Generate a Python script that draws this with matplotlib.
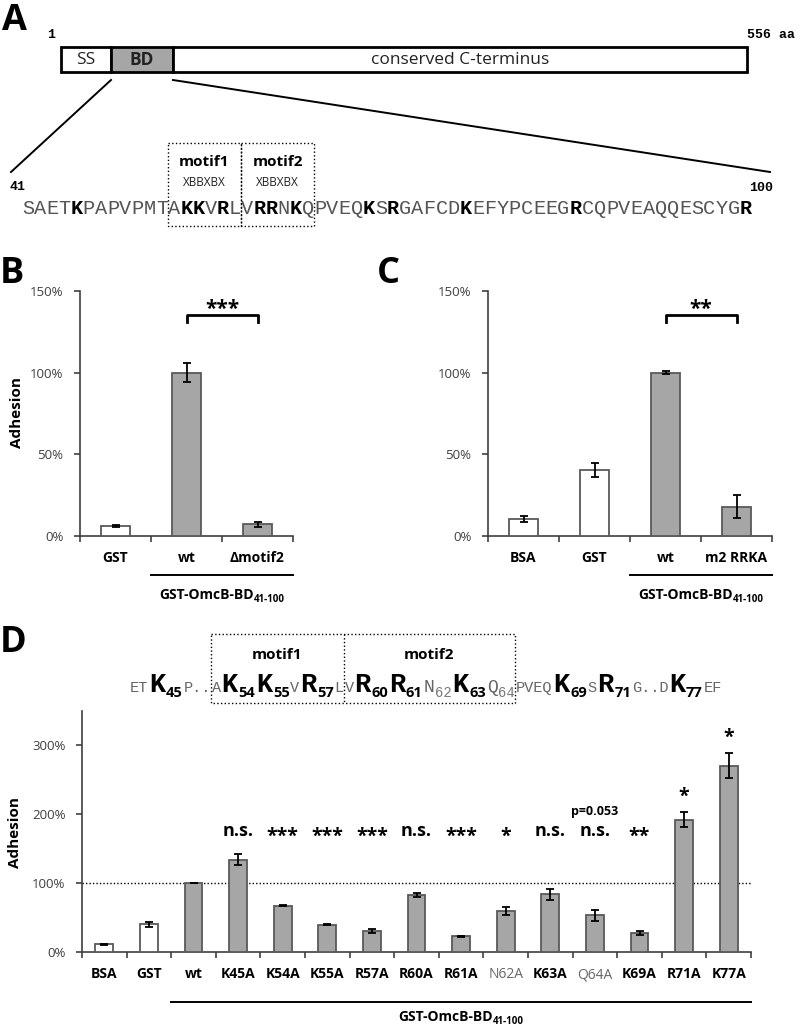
import numpy as np
import matplotlib
matplotlib.use('Agg')
import matplotlib.pyplot as plt
from matplotlib.patches import Rectangle

plt.rcParams['font.family'] = ['Open Sans', 'DejaVu Sans']
SANS = ['Open Sans', 'DejaVu Sans']
MONO = ['Liberation Mono', 'DejaVu Sans Mono']

# ---------------- data ----------------
domain_labels = ['SS', 'BD', 'conserved C-terminus']
seqA = "SAETKPAPVPMTAKKVRLVRRNKQPVEQKSRGAFCDKEFYPCEEGRCQPVEAQQESCYGR"
motifA = [(12, 18), (18, 24)]
motif_names = ['motif1', 'motif2']
motif_pattern = 'XBBXBX'

b_cats = ['GST', 'wt', '\u0394motif2']
b_vals = [0.061, 1.00, 0.073]
b_err = [0.005, 0.06, 0.015]
b_white = [True, False, False]

c_cats = ['BSA', 'GST', 'wt', 'm2 RRKA']
c_vals = [0.104, 0.405, 1.00, 0.178]
c_err = [0.018, 0.045, 0.01, 0.07]
c_white = [True, True, False, False]

d_cats = ['BSA', 'GST', 'wt', 'K45A', 'K54A', 'K55A', 'R57A', 'R60A', 'R61A',
          'N62A', 'K63A', 'Q64A', 'K69A', 'R71A', 'K77A']
d_vals = [0.11, 0.40, 1.00, 1.34, 0.67, 0.395, 0.30, 0.83, 0.225,
          0.59, 0.84, 0.53, 0.275, 1.92, 2.70]
d_err = [0.01, 0.04, 0.005, 0.08, 0.01, 0.01, 0.03, 0.03, 0.01,
         0.055, 0.08, 0.085, 0.035, 0.11, 0.185]
d_white = [True, True] + [False] * 13
d_sig = ['', '', '', 'n.s.', '***', '***', '***', 'n.s.', '***', '*',
         'n.s.', 'n.s.', '**', '*', '*']
d_plain = ['N62A', 'Q64A']
group_label = ('GST-OmcB-BD', '41-100')

# D sequence tokens: (text, kind) kind: s=small letter, m=medium letter, B=big bold, n=sub bold, g=sub gray
seqD = [('ET', 's'), ('K', 'B'), ('45', 'n'), ('P..', 's'), ('|', 'box'), ('A', 's'),
        ('K', 'B'), ('54', 'n'), ('K', 'B'), ('55', 'n'), ('V', 's'), ('R', 'B'),
        ('57', 'n'), ('L', 's'), ('|', 'div'), ('V', 's'), ('R', 'B'), ('60', 'n'),
        ('R', 'B'), ('61', 'n'), ('N', 'm'), ('62', 'g'), ('K', 'B'), ('63', 'n'),
        ('Q', 'm'), ('64', 'g'), ('|', 'end'), ('PVEQ', 's'), ('K', 'B'), ('69', 'n'),
        ('S', 's'), ('R', 'B'), ('71', 'n'), ('G..D', 's'), ('K', 'B'), ('77', 'n'),
        ('EF', 's')]

# ---------------- figure ----------------
W, H = 800, 1029
fig = plt.figure(figsize=(W / 100, H / 100), dpi=100)
ov = fig.add_axes([0, 0, 1, 1])
ov.set_xlim(0, W)
ov.set_ylim(H, 0)
ov.axis('off')
R = fig.canvas.get_renderer()

GREY = '#a6a6a6'
EDGE = '#595959'
AX = '#404040'


def add_ax(x0, x1, y0, y1):
    return fig.add_axes([x0 / W, 1 - y1 / H, (x1 - x0) / W, (y1 - y0) / H])


def to_px(ax, x, y):
    d = ax.transData.transform((x, y))
    return d[0], H - d[1]


def place_runs(x, y, items, center=False):
    arts = []
    widths = []
    for txt, kw, dy, gap in items:
        t = ov.text(0, y + dy, txt, ha='left', va='baseline', **kw)
        arts.append((t, dy))
        widths.append(t.get_window_extent(R).width + gap)
    total = sum(widths)
    xs = x - total / 2 if center else x
    starts = []
    for (t, dy), w in zip(arts, widths):
        t.set_position((xs, y + dy))
        starts.append(xs)
        xs += w
    return starts, xs


# ---------------- panel letters ----------------
for lab, x, y in [('A', 2, 30), ('B', 0, 283), ('C', 377, 283), ('D', 0, 652)]:
    ov.text(x, y, lab, fontsize=26, fontweight='bold', va='baseline', ha='left',
            family=SANS)

# ---------------- panel A ----------------
dom_x = [61, 111, 173, 747]
dom_fill = ['white', GREY, 'white']
for i, lab in enumerate(domain_labels):
    ov.add_patch(Rectangle((dom_x[i], 47), dom_x[i + 1] - dom_x[i], 25,
                           facecolor=dom_fill[i], edgecolor='black', lw=2))
    ov.text((dom_x[i] + dom_x[i + 1]) / 2, 60, lab, ha='center', va='center',
            fontsize=12.5, fontweight='bold' if lab == 'BD' else 'normal',
            color='#222222')
ov.text(51, 38, '1', ha='center', va='baseline', fontsize=9.5, fontweight='bold',
        family=MONO)
ov.text(747, 38, '556 aa', ha='left', va='baseline', fontsize=9.5,
        fontweight='bold', family=MONO)
ov.plot([111, 11], [80, 172], color='black', lw=1.4)
ov.plot([173, 770], [80, 172], color='black', lw=1.4)
ov.text(18, 190, '41', ha='center', va='baseline', fontsize=9.5,
        fontweight='bold', family=MONO)
ov.text(761, 191, '100', ha='center', va='baseline', fontsize=9.5,
        fontweight='bold', family=MONO)

x0A, pitch = 22, 730 / len(seqA)
for i, ch in enumerate(seqA):
    bold = ch in 'KR'
    ov.text(x0A + pitch * (i + 0.5), 214, ch, ha='center', va='baseline',
            family=MONO, fontsize=pitch / 0.6 * 0.72,
            fontweight='bold' if bold else 'normal',
            color='black' if bold else '#555555')
for (a, b), name in zip(motifA, motif_names):
    xa, xb = x0A + pitch * a, x0A + pitch * b
    ov.add_patch(Rectangle((xa, 143), xb - xa, 83, fill=False, edgecolor='black',
                           lw=1, ls=':'))
    ov.text((xa + xb) / 2, 162, name, ha='center', va='center', fontsize=11,
            fontweight='bold')
    ov.text((xa + xb) / 2, 183, motif_pattern, ha='center', va='center',
            fontsize=8.5, color='#222222')

# ---------------- bar panels ----------------
def style(ax, cats, ymax, yticks):
    n = len(cats)
    ax.set_xlim(-0.5, n - 0.5)
    ax.set_ylim(0, ymax)
    ax.patch.set_alpha(0)
    for s in ['top', 'right']:
        ax.spines[s].set_visible(False)
    for s in ['left', 'bottom']:
        ax.spines[s].set_color(AX)
        ax.spines[s].set_linewidth(1.2)
    ax.set_xticks(np.arange(n + 1) - 0.5)
    ax.set_xticklabels([])
    ax.tick_params(axis='x', which='major', length=4, width=1.2, color=AX)
    ax.set_xticks(np.arange(n), minor=True)
    ax.set_xticklabels(cats, minor=True, fontweight='bold', fontsize=10)
    ax.tick_params(axis='x', which='minor', length=0, pad=11)
    ax.set_yticks(yticks)
    ax.set_yticklabels([f'{int(round(v * 100))}%' for v in yticks], fontsize=9.5,
                       color=AX)
    ax.tick_params(axis='y', length=4, width=1.2, color=AX, pad=8)


def bars(ax, vals, err, white):
    x = np.arange(len(vals))
    ax.bar(x, vals, width=0.4, color=['white' if w else GREY for w in white],
           edgecolor=EDGE, lw=1.3, yerr=err, capsize=3,
           error_kw=dict(elinewidth=1.3, capthick=1.3, ecolor='black'), zorder=3)


def group(ax, x_a, x_b, y_line, y_text):
    pa = to_px(ax, x_a, 0)[0]
    pb = to_px(ax, x_b, 0)[0]
    ov.plot([pa, pb], [y_line, y_line], color='black', lw=1.4)
    place_runs((pa + pb) / 2, y_text,
               [(group_label[0], dict(fontsize=10, fontweight='bold'), 0, 0.5),
                (group_label[1], dict(fontsize=7, fontweight='bold'), 3.5, 0)],
               center=True)


def bracket(ax, xa, xb, ylo, yhi, ytxt, label):
    ax.plot([xa, xa, xb, xb], [ylo, yhi, yhi, ylo], color='black', lw=2,
            clip_on=False, zorder=4)
    ax.annotate(label, ((xa + xb) / 2, ytxt), ha='center', va='center',
                fontsize=15, fontweight='bold', xytext=(0, -3),
                textcoords='offset points', annotation_clip=False)


axB = add_ax(80, 293, 291, 536)
style(axB, b_cats, 1.5, [0, 0.5, 1.0, 1.5])
bars(axB, b_vals, b_err, b_white)
bracket(axB, 1, 2, 1.31, 1.353, 1.414, '***')

axC = add_ax(488, 772, 291, 536)
style(axC, c_cats, 1.5, [0, 0.5, 1.0, 1.5])
bars(axC, c_vals, c_err, c_white)
bracket(axC, 2, 3, 1.31, 1.353, 1.414, '**')

axD = add_ax(82, 751, 710.5, 952)
style(axD, d_cats, 3.5, [0, 1, 2, 3])
axD.axhline(1.0, color='black', lw=1, ls=(0, (1, 1.5)), zorder=2)
bars(axD, d_vals, d_err, d_white)
for t in axD.get_xticklabels(minor=True):
    if t.get_text() in d_plain:
        t.set_fontweight('normal')
        t.set_color('#666666')
for i, s in enumerate(d_sig):
    if not s:
        continue
    y = max(1.75, d_vals[i] + d_err[i] + 0.3)
    off = -4 if set(s) == {'*'} else 0
    axD.annotate(s, (i, y), ha='center', va='center', fontsize=14 if '*' in s else 13,
                 fontweight='bold', xytext=(0, off), textcoords='offset points')
axD.annotate('p=0.053', (11, 2.03), ha='center', va='center', fontsize=9,
             fontweight='bold')

for x, y in [(17, 413), (15, 832)]:
    ov.text(x, y, 'Adhesion', rotation=90, ha='center', va='center', fontsize=11,
            fontweight='bold')

group(axB, 0.5, 2.5, 575, 599)
group(axC, 1.5, 3.5, 575, 599)
group(axD, 1.5, 14.5, 1002, 1021)

# ---------------- panel D sequence ----------------
kinds = {
    's': (dict(family=MONO, fontsize=11, color='#666666'), 0, 0.8),
    'm': (dict(family=MONO, fontsize=13, color='#666666'), 0, 0.8),
    'B': (dict(family=MONO, fontsize=19.5, fontweight='bold', color='black'), 0, 0.6),
    'n': (dict(family=SANS, fontsize=10.5, fontweight='bold', color='black'), 5, 0.8),
    'g': (dict(family=MONO, fontsize=10, color='#777777'), 5, 0.8),
}
items = []
marks = []
for txt, kind in seqD:
    if kind in ('box', 'div', 'end'):
        marks.append((len(items), kind))
        continue
    kw, dy, gap = kinds[kind]
    items.append((txt, kw, dy, gap))
starts, xend = place_runs(130, 692, items)
starts = starts + [xend]
pos = {k: starts[i] - 1 for i, k in marks}
bx0, bdiv, bx1 = pos['box'], pos['div'], pos['end']
ov.add_patch(Rectangle((bx0, 634), bx1 - bx0, 69, fill=False, edgecolor='black',
                       lw=1, ls=':'))
ov.plot([bdiv, bdiv], [634, 703], color='black', lw=1, ls=':')
ov.text((bx0 + bdiv) / 2, 655, motif_names[0], ha='center', va='center',
        fontsize=11, fontweight='bold')
ov.text((bdiv + bx1) / 2, 655, motif_names[1], ha='center', va='center',
        fontsize=11, fontweight='bold')

fig.savefig('out.png', dpi=100)
